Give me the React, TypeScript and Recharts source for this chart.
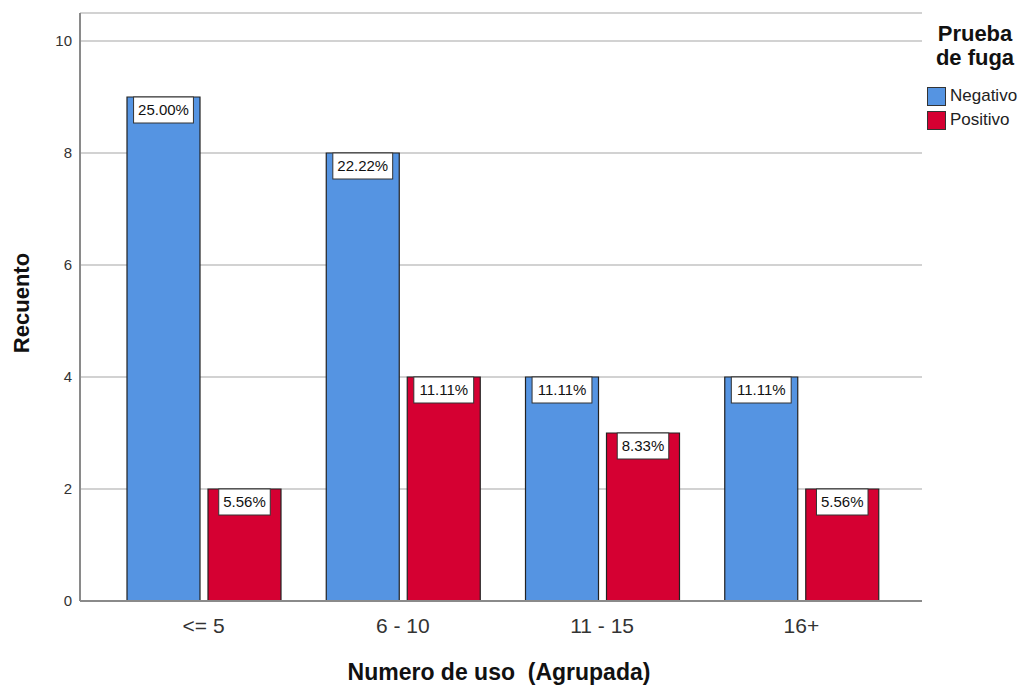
import React from "react";
import { BarChart, Bar, XAxis, YAxis, CartesianGrid, Legend, LabelList } from "recharts";

const categories = ["<= 5", "6 - 10", "11 - 15", "16+"];
const negativo = [9, 8, 4, 4];
const positivo = [2, 4, 3, 2];
const negativoPct = ["25.00%", "22.22%", "11.11%", "11.11%"];
const positivoPct = ["5.56%", "11.11%", "8.33%", "5.56%"];
const yTicks = [0, 2, 4, 6, 8, 10];

const FONT = '"Liberation Sans", Arial, sans-serif';
const BLUE = "#5594e2";
const RED = "#d50032";

const data = categories.map((cat, i) => ({
  cat,
  negativo: negativo[i],
  positivo: positivo[i],
  negPct: negativoPct[i],
  posPct: positivoPct[i],
}));

// rough Arial widths, good enough to size the label boxes
const charW: Record<string, number> = { ".": 0.278, "%": 0.889 };
const textWidth = (s: string, fs: number) =>
  s.split("").reduce((w, ch) => w + (charW[ch] ?? 0.556), 0) * fs;

const PctLabel = (props: any) => {
  const { x, y, width, value } = props;
  const fs = 15;
  const w = textWidth(String(value), fs) + 9;
  const cx = Number(x) + Number(width) / 2;
  return (
    <g>
      <rect x={cx - w / 2} y={y} width={w} height={26} fill="#fff" stroke="#333" strokeWidth={1} />
      <text x={cx} y={Number(y) + 18} textAnchor="middle" fontSize={fs} fill="#111" fontFamily={FONT}>
        {value}
      </text>
    </g>
  );
};

const XTitle = (props: any) => {
  const vb = props.viewBox || { x: 80, y: 601, width: 842, height: 40 };
  return (
    <text
      x={vb.x + vb.width / 2 - 2}
      y={vb.y + 79}
      textAnchor="middle"
      fontSize={23}
      fontWeight="bold"
      fill="#111"
      fontFamily={FONT}
      style={{ whiteSpace: "pre" }}
    >
      Numero de uso  (Agrupada)
    </text>
  );
};

const YTitle = (props: any) => {
  const vb = props.viewBox || { x: 0, y: 13, width: 80, height: 588 };
  const cx = vb.x + 29;
  const cy = vb.y + vb.height / 2 - 4;
  return (
    <text
      x={cx}
      y={cy}
      transform={`rotate(-90 ${cx} ${cy})`}
      textAnchor="middle"
      fontSize={22}
      fontWeight="bold"
      fill="#111"
      fontFamily={FONT}
    >
      Recuento
    </text>
  );
};

const LegendBox = () => (
  <div style={{ fontFamily: FONT, color: "#111", width: 96 }}>
    <div style={{ fontWeight: "bold", fontSize: 22, lineHeight: "24px", textAlign: "center" }}>
      Prueba
      <br />
      de fuga
    </div>
    <div style={{ marginTop: 14 }}>
      {[
        { name: "Negativo", color: BLUE },
        { name: "Positivo", color: RED },
      ].map((it) => (
        <div key={it.name} style={{ display: "flex", alignItems: "center", height: 24 }}>
          <span
            style={{
              display: "inline-block",
              width: 19,
              height: 19,
              background: it.color,
              border: "1px solid #333",
              boxSizing: "border-box",
              marginRight: 4,
            }}
          />
          <span style={{ fontSize: 17, color: "#222" }}>{it.name}</span>
        </div>
      ))}
    </div>
  </div>
);

export default function App() {
  return (
    <div style={{ position: "absolute", left: 0, top: 0, background: "#fff" }}>
      <BarChart
        width={1026}
        height={688}
        data={data}
        margin={{ top: 13, right: 104, left: 0, bottom: 47 }}
        barCategoryGap={23}
        barGap={8}
      >
        <CartesianGrid vertical={false} stroke="#d2d2d2" strokeWidth={2} />
        <XAxis
          dataKey="cat"
          padding={{ left: 24, right: 21 }}
          tickLine={false}
          tickSize={0}
          tickMargin={17}
          height={40}
          axisLine={{ stroke: "#8a8a8a", strokeWidth: 2 }}
          tick={{ fontSize: 21, fill: "#333", fontFamily: FONT }}
          label={<XTitle />}
        />
        <YAxis
          width={80}
          domain={[0, 10.5]}
          ticks={yTicks}
          tickLine={false}
          tickSize={0}
          tickMargin={8}
          axisLine={{ stroke: "#8a8a8a", strokeWidth: 2 }}
          tick={{ fontSize: 15, fill: "#333", fontFamily: FONT }}
          label={<YTitle />}
        />
        <Legend
          layout="vertical"
          align="center"
          verticalAlign="middle"
          wrapperStyle={{ left: 927, top: 22, width: 96 }}
          content={<LegendBox />}
        />
        <Bar dataKey="negativo" name="Negativo" fill={BLUE} stroke="#222" strokeWidth={1.2} isAnimationActive={false}>
          <LabelList dataKey="negPct" content={<PctLabel />} />
        </Bar>
        <Bar dataKey="positivo" name="Positivo" fill={RED} stroke="#222" strokeWidth={1.2} isAnimationActive={false}>
          <LabelList dataKey="posPct" content={<PctLabel />} />
        </Bar>
      </BarChart>
    </div>
  );
}
